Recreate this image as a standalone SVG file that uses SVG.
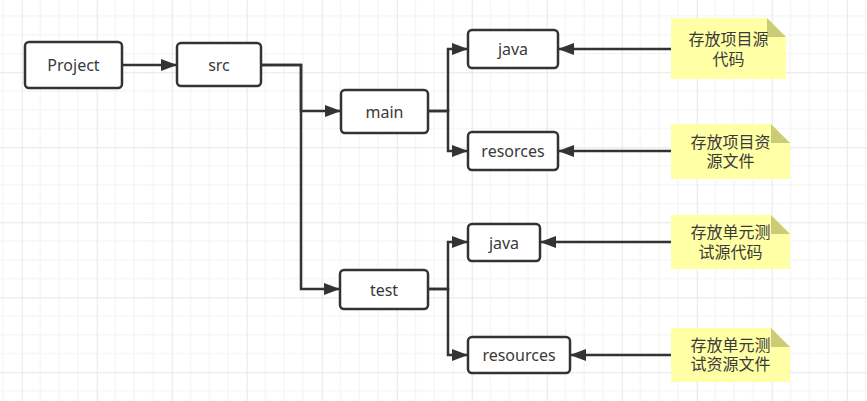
<svg xmlns="http://www.w3.org/2000/svg" width="867" height="401" viewBox="0 0 867 401">
<defs>
<pattern id="grid" x="21.7" y="72.3" width="75" height="75" patternUnits="userSpaceOnUse">
<path d="M18.75 0V75M37.5 0V75M56.25 0V75M0 18.75H75M0 37.5H75M0 56.25H75" stroke="#f2f2f2" stroke-width="1" fill="none"/>
<path d="M0.5 0V75M0 0.5H75" stroke="#e6e6e6" stroke-width="1" fill="none"/>
</pattern>
<marker id="arr" markerUnits="userSpaceOnUse" markerWidth="16" markerHeight="12" refX="16" refY="6" orient="auto">
<path d="M0,0 L16,6 L0,12 z" fill="#333"/>
</marker>
<style>
.box{fill:#fff;stroke:#333;stroke-width:2.5}
.t{font-family:"Noto Sans","Noto Sans CJK SC",sans-serif;font-size:16px;fill:#3a3a3a;text-anchor:middle;dominant-baseline:central}
.ct{font-family:"Liberation Sans","Noto Sans CJK SC",sans-serif;font-size:16px;fill:#3a3a3a;text-anchor:middle}
.note{fill:#ffffa6}
.fold{fill:#cccc77}
.c{fill:none;stroke:#333;stroke-width:2.5}
</style>
</defs>
<rect width="867" height="401" fill="#fff"/>
<rect width="867" height="401" fill="url(#grid)"/>
<g id="connectors">
<path class="c" d="M122,65 H177" marker-end="url(#arr)"/>
<path class="c" d="M261,65 H301 V111 H341" marker-end="url(#arr)"/>
<path class="c" d="M261,65 H301 V289 H340" marker-end="url(#arr)"/>
<path class="c" d="M428,111 H448 V49 H468" marker-end="url(#arr)"/>
<path class="c" d="M428,111 H448 V151 H468" marker-end="url(#arr)"/>
<path class="c" d="M428,289 H448 V242 H468" marker-end="url(#arr)"/>
<path class="c" d="M428,289 H448 V355 H468" marker-end="url(#arr)"/>
<path class="c" d="M671,49 H558" marker-end="url(#arr)"/>
<path class="c" d="M671,151 H558" marker-end="url(#arr)"/>
<path class="c" d="M671,242 H540" marker-end="url(#arr)"/>
<path class="c" d="M671,355 H570" marker-end="url(#arr)"/>
</g>
<g id="project"><rect class="box" x="25" y="42" width="97" height="46" rx="4"/><text class="t" x="73.5" y="65">Project</text></g>
<g id="src"><rect class="box" x="177" y="43" width="84" height="43" rx="4"/><text class="t" x="219" y="64.5">src</text></g>
<g id="main"><rect class="box" x="341" y="90" width="87" height="43" rx="4"/><text class="t" x="384.5" y="111.5">main</text></g>
<g id="test"><rect class="box" x="340" y="270" width="88" height="39" rx="4"/><text class="t" x="384" y="289.5">test</text></g>
<g id="main-java"><rect class="box" x="468" y="30" width="90" height="38" rx="4"/><text class="t" x="513" y="49">java</text></g>
<g id="main-resorces"><rect class="box" x="468" y="132" width="90" height="38" rx="4"/><text class="t" x="513" y="151">resorces</text></g>
<g id="test-java"><rect class="box" x="468" y="224" width="72" height="37" rx="4"/><text class="t" x="504" y="242.5">java</text></g>
<g id="test-resources"><rect class="box" x="468" y="337" width="102" height="36" rx="4"/><text class="t" x="519" y="355">resources</text></g>
<g id="note1">
<polygon class="note" points="671,18 767,18 786,37 786,79 671,79"/>
<polygon class="fold" points="767,18 786,37 767,37"/>
<text class="ct" x="728.5" y="45"><tspan x="728.5">存放项目源</tspan><tspan x="728.5" dy="19.5">代码</tspan></text>
</g>
<g id="note2">
<polygon class="note" points="671,124 771,124 790,143 790,179 671,179"/>
<polygon class="fold" points="771,124 790,143 771,143"/>
<text class="ct" x="730.5" y="147.5"><tspan x="730.5">存放项目资</tspan><tspan x="730.5" dy="19.5">源文件</tspan></text>
</g>
<g id="note3">
<polygon class="note" points="671,215 771,215 790,234 790,269 671,269"/>
<polygon class="fold" points="771,215 790,234 771,234"/>
<text class="ct" x="730.5" y="238"><tspan x="730.5">存放单元测</tspan><tspan x="730.5" dy="19.5">试源代码</tspan></text>
</g>
<g id="note4">
<polygon class="note" points="671,328 771,328 790,347 790,382 671,382"/>
<polygon class="fold" points="771,328 790,347 771,347"/>
<text class="ct" x="730.5" y="351"><tspan x="730.5">存放单元测</tspan><tspan x="730.5" dy="19">试资源文件</tspan></text>
</g>
</svg>
